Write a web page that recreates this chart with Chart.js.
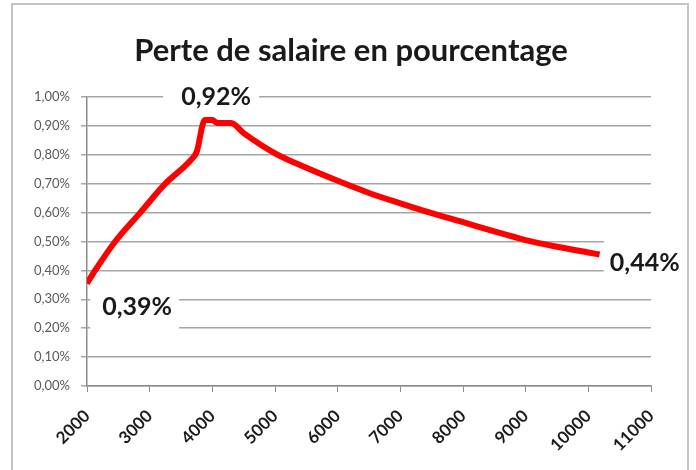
<!DOCTYPE html>
<html lang="fr">
<head>
    <meta charset="UTF-8">
    <title>Perte de salaire en pourcentage</title>
    <script src="https://cdn.jsdelivr.net/npm/chart.js@4/dist/chart.umd.min.js"></script>
    <style>
        body { margin: 0; background: #fff; }
        #wrap { width: 696px; height: 470px; }
    </style>
</head>
<body>
    <div id="wrap"><canvas id="chart" width="696" height="470"></canvas></div>

    <script>
        // salaire et perte (en %)
        const salaires = [2000, 2130, 2450, 2850, 3250, 3650, 3750, 3880, 4000, 4080, 4300, 4500, 5000, 5500, 6000, 6500, 7000, 7500, 8000, 8500, 9000, 9500, 10000, 10180];
        const pertes = [0.355, 0.40, 0.50, 0.60, 0.70, 0.78, 0.81, 0.92, 0.92, 0.91, 0.91, 0.875, 0.805, 0.755, 0.71, 0.668, 0.632, 0.598, 0.567, 0.535, 0.505, 0.482, 0.462, 0.455];

        // étiquettes affichées sur le graphique
        const titre = 'Perte de salaire en pourcentage';
        const etiquettes = ['0,92%', '0,39%', '0,44%'];
        const etiqX = [4060, 2800, 10900];
        const etiqY = [1.0, 0.275, 0.425];

        const xMin = 2000, xMax = 11000, xPas = 1000;
        const yMin = 0, yMax = 1.0, yPas = 0.1;

        const fmt = v => v.toFixed(2).replace('.', ',') + '%';

        // cadre gris, titre + étiquettes avec fond blanc
        const decor = {
            id: 'decor',
            beforeDraw(chart) {
                const c = chart.ctx;
                c.save();
                c.fillStyle = '#fff';
                c.fillRect(0, 0, chart.width, chart.height);
                c.strokeStyle = '#c4c4c4';
                c.lineWidth = 2;
                c.strokeRect(12, 4, 676, 480);
                c.fillStyle = '#1a1a1a';
                c.font = 'bold 31px Lato';
                c.textAlign = 'center';
                c.textBaseline = 'middle';
                c.fillText(titre, 351, 51);
                c.restore();
            },
            afterDatasetsDraw(chart) {
                const c = chart.ctx;
                const sx = chart.scales.x, sy = chart.scales.y;
                c.save();
                c.font = 'bold 25px Lato';
                c.textAlign = 'center';
                c.textBaseline = 'middle';
                etiquettes.forEach((t, i) => {
                    const px = sx.getPixelForValue(etiqX[i]);
                    const py = sy.getPixelForValue(etiqY[i]);
                    const w = c.measureText(t).width;
                    c.fillStyle = '#fff';
                    if (i === 1) {
                        c.fillRect(px - w / 2 - 12, py - 16, w + 19, 44);
                    } else if (i === 2) {
                        c.fillRect(px - w / 2 - 6, py - 30, 686 - (px - w / 2 - 6), 52);
                    } else {
                        c.fillRect(px - w / 2 - 18, py - 6, w + 26, 12);
                    }
                    c.fillStyle = '#1a1a1a';
                    c.fillText(t, px, py);
                });
                c.restore();
            }
        };

        const ctx = document.getElementById('chart').getContext('2d');
        new Chart(ctx, {
            type: 'line',
            data: {
                datasets: [{
                    data: salaires.map((s, i) => ({ x: s, y: pertes[i] })),
                    borderColor: '#ff0000',
                    borderWidth: 6,
                    borderJoinStyle: 'round',
                    pointRadius: 0,
                    cubicInterpolationMode: 'monotone',
                    fill: false
                }]
            },
            options: {
                responsive: false,
                animation: false,
                layout: { padding: { top: 97, right: 45, bottom: 0, left: 0 } },
                plugins: {
                    legend: { display: false },
                    tooltip: { enabled: false },
                    title: { display: false }
                },
                scales: {
                    x: {
                        type: 'linear',
                        min: xMin,
                        max: xMax,
                        afterFit(s) { s.height = 84; },
                        ticks: {
                            stepSize: xPas,
                            minRotation: 45,
                            maxRotation: 45,
                            color: '#1a1a1a',
                            font: { family: 'Lato', size: 17, weight: 'bold' },
                            padding: 14,
                            callback: v => String(v)
                        },
                        grid: { drawOnChartArea: false, drawTicks: true, tickLength: 6, color: '#8c8c8c' },
                        border: { display: true, color: '#8c8c8c', width: 1.5 }
                    },
                    y: {
                        min: yMin,
                        max: yMax,
                        afterFit(s) { s.width = 87; },
                        ticks: {
                            stepSize: yPas,
                            color: '#595959',
                            font: { family: 'Lato', size: 13 },
                            padding: 11,
                            callback: v => fmt(v)
                        },
                        grid: { color: '#a6a6a6', lineWidth: 1.5, drawTicks: true, tickLength: 6 },
                        border: { display: true, color: '#8c8c8c', width: 1.5 }
                    }
                }
            },
            plugins: [decor]
        });
    </script>
</body>
</html>
